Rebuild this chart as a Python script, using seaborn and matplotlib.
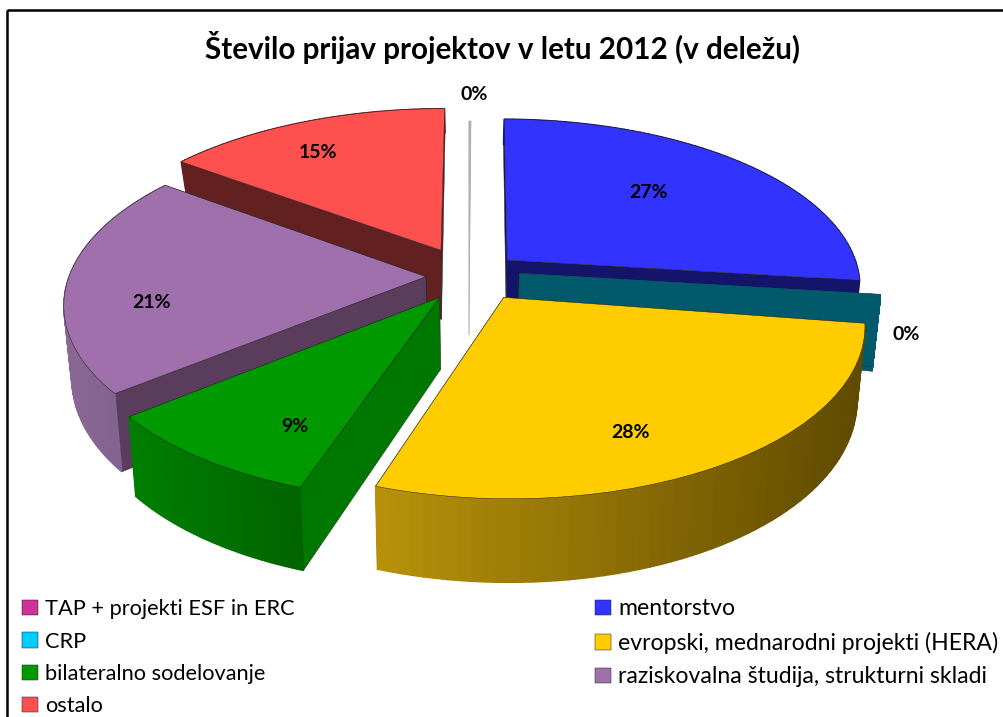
import numpy as np
import matplotlib
matplotlib.use("Agg")
import matplotlib.pyplot as plt
from matplotlib.patches import Rectangle
from matplotlib.transforms import Transform
from matplotlib.colors import to_rgb
import seaborn as sns

# ---- data ----
categories = ["TAP + projekti ESF in ERC", "mentorstvo", "CRP",
              "evropski, mednarodni projekti (HERA)", "bilateralno sodelovanje",
              "raziskovalna študija, strukturni skladi", "ostalo"]
shares = [0.1, 27.0, 0.4, 28.0, 9.0, 21.0, 15.0]
title = "Število prijav projektov v letu 2012 (v deležu)"

# ---- style / layout ----
sns.set_theme(style="white")
plt.rcParams["font.family"] = ["Lato", "DejaVu Sans"]
top_colors = sns.color_palette(["#cc3399", "#3333ff", "#00ccff", "#ffcc00",
                                "#009900", "#a070ad", "#ff5050"])
radial_wall = ["#b0b0b0", "#14146a", "#005a6c", "#5f4a00", "#007800", "#5a3d5c", "#632020"]
outer_left = ["#b0b0b0", "#14146a", "#005a6c", "#b8920a", "#007f00", "#8a6795", "#632020"]
outer_right = ["#b0b0b0", "#14146a", "#005a6c", "#5f4a00", "#006400", "#7f5f8a", "#632020"]
# slice pull-out in the pie plane (unit radius) and per-slice radius
pull_x = [0.0, 0.108, 0.14, 0.095, -0.08, -0.12, -0.08]
pull_y = [0.0, 0.03, -0.05, -0.19, -0.19, -0.07, 0.09]
radii = [1.0, 0.985, 0.995, 0.975, 0.98, 0.995, 1.01]
draw_order = [0, 1, 2, 6, 5, 4, 3]
label_x = [474, 649, 906, 631, 295, 152, 318]
label_y = [94, 193, 335, 433, 427, 302, 153]
# legend reads row by row, matplotlib fills column by column
legend_order = [0, 2, 4, 6, 1, 3, 5]

CX, CY, RX, A, K = 469.0, 265.0, 355.0, 165.6, 0.15
DEPTH_Y = [-1.2, 0.2, 0.8, 1.2]
DEPTH_D = [84, 68, 30, 22]


class PiePlane(Transform):
    """Tilted pie plane -> canvas units."""
    input_dims = output_dims = 2

    def transform_non_affine(self, values):
        v = np.asarray(values, dtype=float)
        w = 1 + K * v[:, 1]
        return np.column_stack([CX + RX * v[:, 0] / w, CY - A * v[:, 1] / w])


plane = PiePlane()


def drop(xy):
    """Lower face of the extruded slice for plane points xy."""
    xy = np.atleast_2d(xy)
    top = plane.transform_non_affine(xy)
    depth = np.interp(xy[:, 1], DEPTH_Y, DEPTH_D)
    low = top.copy()
    low[:, 0] += (CX - top[:, 0]) * 0.02
    low[:, 1] += depth
    return top, low


fig = plt.figure(figsize=(10.04, 7.17), dpi=100, facecolor="white")
ax = fig.add_axes([0, 0, 1, 1])
wedges, _ = ax.pie(shares, colors=top_colors, startangle=90, counterclock=False,
                   radius=1.0, wedgeprops=dict(edgecolor="#222222", linewidth=0.35))
ax.set_aspect("auto")
ax.set_xlim(0, 1004)
ax.set_ylim(717, 0)
ax.set_axis_off()

z = 2.0
for i in draw_order:
    w = wedges[i]
    off = np.array([pull_x[i], pull_y[i]])
    w.set_center(tuple(off))
    w.set_radius(radii[i])
    t = np.radians(np.linspace(w.theta1, w.theta2, 60))
    arc = off + radii[i] * np.column_stack([np.cos(t), np.sin(t)])
    atop, alow = drop(arc)
    # radial walls
    ctop, clow = drop(off)
    for k in (0, -1):
        q = np.vstack([ctop, atop[k], alow[k], clow])
        ax.fill(q[:, 0], q[:, 1], facecolor=radial_wall[i],
                edgecolor="#222222" if i else radial_wall[i], lw=0.3, zorder=z)
    # outer curved wall, shaded left to right
    if i != 0:
        xs = atop[:, 0]
        span = max(xs.max() - xs.min(), 1)
        cl, cr = np.array(to_rgb(outer_left[i])), np.array(to_rgb(outer_right[i]))
        for j in range(len(t) - 1):
            f = (0.5 * (xs[j] + xs[j + 1]) - xs.min()) / span
            c = cl + (cr - cl) * f
            q = np.vstack([atop[j], atop[j + 1], alow[j + 1], alow[j]])
            ax.fill(q[:, 0], q[:, 1], color=c, lw=1.0, zorder=z + 0.5)
    z += 2

legend = ax.legend([wedges[i] for i in legend_order], [categories[i] for i in legend_order],
                   ncol=2, frameon=False, loc="upper left",
                   bbox_to_anchor=(5, 581), bbox_transform=ax.transData,
                   fontsize=15.7, labelspacing=0.56, handlelength=0.7, handleheight=0.7,
                   handletextpad=0.33, columnspacing=13.8, borderpad=0.3, labelcolor="black")
legend.set_zorder(50)
for txt in legend.get_texts()[4:]:
    txt.set_fontsize(16.6)

z = 2.0
for i in draw_order:
    w = wedges[i]
    w.set_transform(plane + ax.transData)
    w.set_clip_on(False)
    w.set_zorder(z + 1.5)
    z += 2
    if i in (0, 2):
        w.set_facecolor(radial_wall[i])
        w.set_edgecolor(radial_wall[i])

pct = 100 * np.array(shares) / np.sum(shares)
for i in range(len(shares)):
    ax.text(label_x[i], label_y[i], f"{pct[i]:.0f}%", ha="center", va="center",
            fontsize=14, fontweight="bold", color="black", zorder=60)

ax.text(503, 47, title, ha="center", va="center", fontsize=21.3,
        fontweight="bold", color="black", zorder=60)
ax.add_patch(Rectangle((7, 10), 1200, 1000, fill=False, edgecolor="black",
                       linewidth=1.8, zorder=70, clip_on=True))

fig.savefig("out.png", dpi=100, facecolor="white")
